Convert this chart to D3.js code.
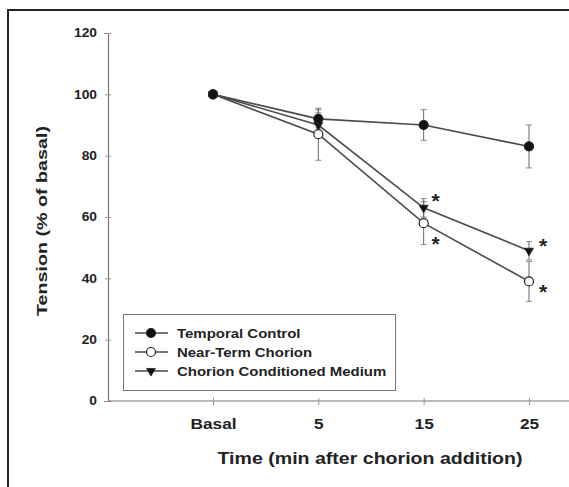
<!DOCTYPE html>
<html>
<head>
<meta charset="utf-8">
<script src="https://cdn.jsdelivr.net/npm/d3@7"></script>
<style>
  body { margin: 0; background: #fff; }
  svg { display: block; font-family: "Liberation Sans", Arial, sans-serif; font-weight: bold; }
</style>
</head>
<body>
<svg id="Canvas" width="569" height="487"></svg>
<script>
// categories on the x axis
var timePoints = ["Basal", "5", "15", "25"];
var yTicks = [0, 20, 40, 60, 80, 100, 120];

// series values (% of basal) and their error bars
var temporalControl = [100, 92, 90, 83];
var temporalErr = [0, 3, 5, 7];
var nearTermChorion = [100, 87, 58, 39];
var nearTermErr = [0, 8.5, 7, 6.5];
var conditionedMedium = [100, 90, 63, 49];
var conditionedErr = [0, 4, 3, 3];

var seriesNames = ["Temporal Control", "Near-Term Chorion", "Chorion Conditioned Medium"];

// significance stars: series index, point index
var stars = [
  { s: 2, i: 2, dx: 12, dy: -10 },
  { s: 1, i: 2, dx: 12, dy: 18 },
  { s: 2, i: 3, dx: 14, dy: -8 },
  { s: 1, i: 3, dx: 14, dy: 8 }
];

var series = [
  { name: seriesNames[0], values: temporalControl, err: temporalErr, marker: "circle", fill: "#111" },
  { name: seriesNames[1], values: nearTermChorion, err: nearTermErr, marker: "circle", fill: "#fff" },
  { name: seriesNames[2], values: conditionedMedium, err: conditionedErr, marker: "triangle", fill: "#111" }
];

var svg = d3.select("#Canvas");
var lineColor = "#4a4a4a";
var wide = 1.15; // the picture's lettering is a bit wider than the font

/*
 * widen text so it fills the same width as in the picture
 */
function stretch(sel, k){
  sel.each(function(){
    var w = this.getComputedTextLength();
    d3.select(this).attr("textLength", w * k).attr("lengthAdjust", "spacingAndGlyphs");
  });
}

// outer frame (only left and top visible)
svg.append("path")
  .attr("d", "M8,492V10H572")
  .attr("fill", "none")
  .attr("stroke", "#222")
  .attr("stroke-width", 2);

var x = d3.scalePoint().domain(timePoints).range([213, 529]);
var y = d3.scaleLinear().domain([0, 120]).range([401, 33]);

// axes
var yAxis = svg.append("g")
  .attr("transform", "translate(108,0)")
  .call(d3.axisLeft(y).tickValues(yTicks).tickSize(4).tickPadding(7));
yAxis.select(".domain").attr("stroke", "#777").attr("stroke-width", 1.2);
yAxis.selectAll(".tick line").attr("stroke", "#999").attr("x2", 3).attr("x1", -3);
yAxis.selectAll("text").attr("font-size", 12).attr("font-weight", "bold").attr("fill", "#222")
  .attr("font-family", "Liberation Sans, Arial, sans-serif");
stretch(yAxis.selectAll("text"), wide);

var xAxis = svg.append("g")
  .attr("transform", "translate(0,401)")
  .call(d3.axisBottom(x).tickSize(4).tickPadding(13));
xAxis.select(".domain").attr("d", "M108,0H569").attr("stroke", "#777").attr("stroke-width", 1.2);
xAxis.selectAll(".tick line").attr("stroke", "#999").attr("y1", -3).attr("y2", 4);
xAxis.selectAll("text").attr("font-size", 15).attr("font-weight", "bold").attr("fill", "#222")
  .attr("font-family", "Liberation Sans, Arial, sans-serif");
stretch(xAxis.selectAll("text"), wide);

// axis titles
svg.append("text")
  .attr("transform", "translate(47,221) rotate(-90)")
  .attr("text-anchor", "middle")
  .attr("font-size", 15)
  .attr("fill", "#222")
  .attr("textLength", 190)
  .attr("lengthAdjust", "spacingAndGlyphs")
  .text("Tension (% of basal)");

svg.append("text")
  .attr("x", 370)
  .attr("y", 464)
  .attr("text-anchor", "middle")
  .attr("font-size", 17)
  .attr("fill", "#222")
  .attr("textLength", 305)
  .attr("lengthAdjust", "spacingAndGlyphs")
  .text("Time (min after chorion addition)");

function drawMarker(g, type, fill, cx, cy) {
  if (type === "circle") {
    g.append("circle")
      .attr("cx", cx).attr("cy", cy).attr("r", 4.5)
      .attr("fill", fill).attr("stroke", "#222").attr("stroke-width", 1.2);
  } else {
    g.append("path")
      .attr("d", d3.symbol().type(d3.symbolTriangle).size(34))
      .attr("transform", "translate(" + cx + "," + cy + ") rotate(180)")
      .attr("fill", fill).attr("stroke", "#222").attr("stroke-width", 0.8);
  }
}

var line = d3.line()
  .x(function(d, i){ return x(timePoints[i]); })
  .y(function(d){ return y(d); });

var plot = svg.append("g");

// error bars
series.forEach(function(s){
  s.values.forEach(function(v, i){
    if (!s.err[i]) return;
    var cx = x(timePoints[i]);
    plot.append("line")
      .attr("x1", cx).attr("x2", cx)
      .attr("y1", y(v + s.err[i])).attr("y2", y(v - s.err[i]))
      .attr("stroke", "#666").attr("stroke-width", 1);
    [v + s.err[i], v - s.err[i]].forEach(function(e){
      plot.append("line")
        .attr("x1", cx - 3).attr("x2", cx + 3)
        .attr("y1", y(e)).attr("y2", y(e))
        .attr("stroke", "#888").attr("stroke-width", 1);
    });
  });
});

// lines
series.forEach(function(s){
  plot.append("path")
    .datum(s.values)
    .attr("d", line)
    .attr("fill", "none")
    .attr("stroke", lineColor)
    .attr("stroke-width", 1.6);
});

// markers, drawn last series first so the control sits on top
series.slice().reverse().forEach(function(s){
  s.values.forEach(function(v, i){
    drawMarker(plot, s.marker, s.fill, x(timePoints[i]), y(v));
  });
});

// stars
stars.forEach(function(st){
  var s = series[st.s];
  plot.append("text")
    .attr("x", x(timePoints[st.i]) + st.dx)
    .attr("y", y(s.values[st.i]) + st.dy + 10)
    .attr("text-anchor", "middle")
    .attr("font-size", 21)
    .attr("fill", "#222")
    .text("*");
});

// legend
var legend = svg.append("g");
legend.append("rect")
  .attr("x", 123.5).attr("y", 314.5)
  .attr("width", 272).attr("height", 76)
  .attr("fill", "#fff")
  .attr("stroke", "#777")
  .attr("stroke-width", 1);

series.forEach(function(s, k){
  var ly = 333 + k * 19;
  legend.append("line")
    .attr("x1", 135).attr("x2", 168)
    .attr("y1", ly).attr("y2", ly)
    .attr("stroke", lineColor).attr("stroke-width", 1.5);
  drawMarker(legend, s.marker, s.fill, 151, ly);
  var t = legend.append("text")
    .attr("x", 177).attr("y", ly + 5)
    .attr("font-size", 13)
    .attr("fill", "#222")
    .text(s.name);
  stretch(t, wide);
});
</script>
</body>
</html>
